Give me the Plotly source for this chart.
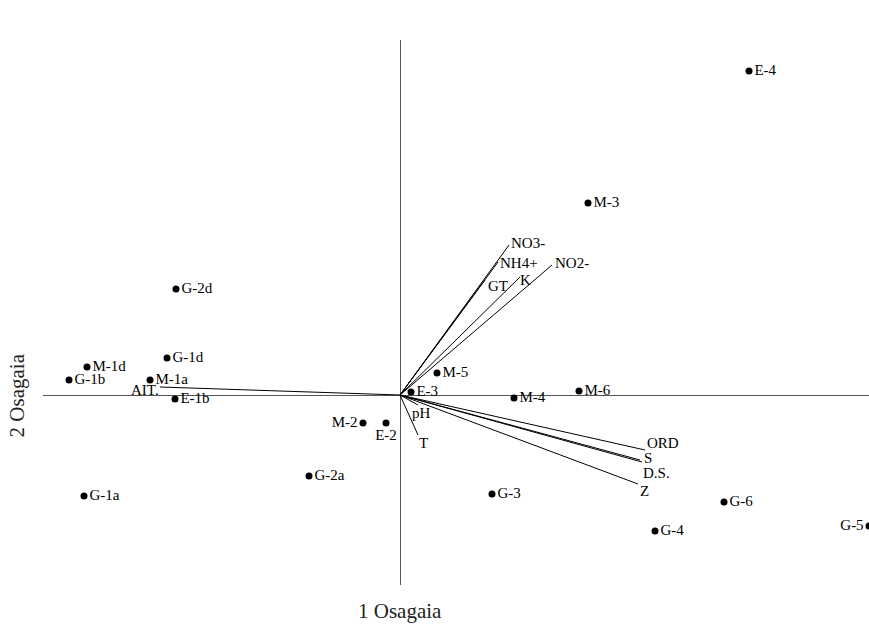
import plotly.graph_objects as go

# Sample scores (axis 1, axis 2)
sites = ["E-4", "M-3", "G-2d", "G-1d", "M-1d", "G-1b", "M-1a", "E-1b", "G-1a", "M-5",
         "E-3", "M-4", "M-6", "M-2", "E-2", "G-2a", "G-3", "G-6", "G-4", "G-5"]
site_x = [3.49, 1.88, -2.24, -2.33, -3.13, -3.31, -2.50, -2.25, -3.16, 0.37,
          0.11, 1.14, 1.79, -0.37, -0.14, -0.91, 0.92, 3.24, 2.55, 4.69]
site_y = [3.24, 1.92, 1.06, 0.37, 0.28, 0.15, 0.15, -0.04, -1.01, 0.22,
          0.03, -0.03, 0.04, -0.28, -0.28, -0.81, -0.99, -1.07, -1.36, -1.31]

# Environmental variable vectors (axis 1, axis 2)
variables = ["AIT.", "NO3-", "NH4+", "GT", "K", "NO2-", "pH", "T", "ORD", "S", "D.S.", "Z"]
var_x = [-2.40, 1.09, 0.98, 0.85, 1.20, 1.52, 0.18, 0.18, 2.45, 2.42, 2.40, 2.38]
var_y = [0.08, 1.50, 1.33, 1.15, 1.18, 1.30, -0.10, -0.40, -0.55, -0.67, -0.65, -0.89]

x_title = "1 Osagaia"
y_title = "2 Osagaia"

FONT = "Liberation Serif"

# label placement styles
site_textpos = {"M-2": "middle left", "G-5": "middle left", "E-2": "bottom center"}
var_label_style = {
    "AIT.": dict(xanchor="right", xshift=1, yshift=-3),
    "NO3-": dict(xanchor="left", xshift=0, yshift=2),
    "NH4+": dict(xanchor="left", xshift=0, yshift=-1),
    "GT": dict(xanchor="left", xshift=1, yshift=-6),
    "K": dict(xanchor="left", xshift=-2, yshift=-3),
    "NO2-": dict(xanchor="left", xshift=1, yshift=2),
    "pH": dict(xanchor="center", xshift=3, yshift=-8),
    "T": dict(xanchor="center", xshift=5, yshift=-8),
    "ORD": dict(xanchor="left", xshift=0, yshift=7),
    "S": dict(xanchor="left", xshift=0, yshift=4),
    "D.S.": dict(xanchor="left", xshift=1, yshift=-13),
    "Z": dict(xanchor="left", xshift=0, yshift=-7),
}

fig = go.Figure()

for name, vx, vy in zip(variables, var_x, var_y):
    fig.add_trace(go.Scatter(x=[0, vx], y=[0, vy], mode="lines",
                             line=dict(color="black", width=1),
                             hoverinfo="skip", showlegend=False))

fig.add_trace(go.Scatter(
    x=site_x, y=site_y, mode="markers+text", text=sites,
    textposition=[site_textpos.get(s, "middle right") for s in sites],
    textfont=dict(family=FONT, size=15, color="black"),
    marker=dict(color="black", size=7),
    cliponaxis=False, showlegend=False))

annotations = []
for name, vx, vy in zip(variables, var_x, var_y):
    st = var_label_style[name]
    annotations.append(dict(x=vx, y=vy, xref="x", yref="y", text=name, showarrow=False,
                            xanchor=st["xanchor"], yanchor="middle",
                            xshift=st["xshift"], yshift=st["yshift"],
                            font=dict(family=FONT, size=15, color="black")))

annotations.append(dict(x=0, y=-0.047, xref="x", yref="paper", text=x_title,
                        showarrow=False, xanchor="center", yanchor="middle",
                        font=dict(family=FONT, size=21, color="#222")))
annotations.append(dict(x=-0.031, y=0, xref="paper", yref="y", text=y_title,
                        showarrow=False, xanchor="center", yanchor="middle", textangle=-90,
                        font=dict(family=FONT, size=21, color="#222")))

axis_common = dict(showgrid=False, showticklabels=False, ticks="", showline=False,
                   zeroline=True, zerolinecolor="#555", zerolinewidth=1.3)

fig.update_layout(
    width=869, height=625,
    margin=dict(l=43, r=0, t=40, b=40),
    paper_bgcolor="white", plot_bgcolor="white",
    xaxis=dict(range=[-3.57, 4.69], **axis_common),
    yaxis=dict(range=[-1.90, 3.55], **axis_common),
    annotations=annotations,
)

fig.write_html("out.html", config={"displayModeBar": False},
               post_script="document.body.style.margin='0';document.body.style.overflow='hidden';")
